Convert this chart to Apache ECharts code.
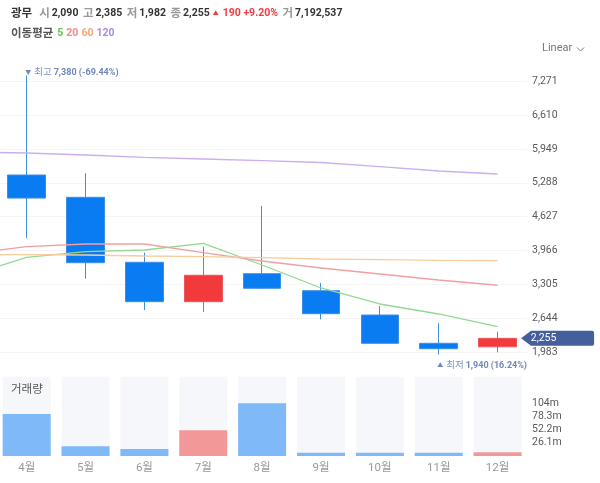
<!DOCTYPE html>
<html>
<head>
<meta charset="utf-8">
<script src="https://cdn.jsdelivr.net/npm/echarts@6/dist/echarts.min.js"></script>
<style>
  html, body { margin: 0; padding: 0; background: #fff; overflow: hidden; }
  #wrap { position: relative; width: 600px; height: 483px; overflow: hidden; }
  /* canvas starts left of the window so the first month slot is cut off */
  #chart { position: absolute; left: -62px; top: 0; width: 662px; height: 483px; }
</style>
</head>
<body>
<div id="wrap"><div id="chart"></div></div>
<script>
// first slot is the month before the window, only the ma lines use it
var months = ['', '4월', '5월', '6월', '7월', '8월', '9월', '10월', '11월', '12월'];

var opens  = ['-', 5440, 5005, 3738, 2970, 3516, 3184, 2710, 2158, 2090];
var closes = ['-', 4990, 3730, 2970, 3485, 3231, 2736, 2158, 2053, 2255];
var lows   = ['-', 4212, 3418, 2808, 2769, 3220, 2627, 2158, 1940, 1982];
var highs  = ['-', 7380, 5474, 3925, 4042, 4836, 3334, 2886, 2549, 2385];

var ma5   = [3471, 3835, 3945, 3978, 4108, 3685, 3237, 2925, 2730, 2482];
var ma20  = [3902, 4042, 4095, 4095, 3925, 3763, 3627, 3510, 3393, 3290];
var ma60  = [3886, 3886, 3880, 3861, 3847, 3828, 3802, 3789, 3777, 3769];
var ma120 = [5889, 5869, 5830, 5785, 5752, 5719, 5684, 5602, 5518, 5460];

// volume in millions
var volumes = ['-', 83, 19.2, 13.8, 50.8, 104.2, 6.5, 6.5, 6.5, 7.19];

var priceTicks = [1983, 2644, 3305, 3966, 4627, 5288, 5949, 6610, 7271];
var volumeTicks = [26.1, 52.2, 78.3, 104.4];
var volumeTickLabels = ['26.1m', '52.2m', '78.3m', '104m'];

var UP = '#f23a3c';
var DOWN = '#0a7cf2';
var FONT = 'Roboto, "Noto Sans CJK KR", sans-serif';
var SHIFT = 62; // how far the canvas hangs off the left edge

var candles = [];
for (var i = 0; i < months.length; i++) {
  candles.push([opens[i], closes[i], lows[i], highs[i]]);
}

var priceStep = priceTicks[1] - priceTicks[0];
var volumeStep = volumeTicks[0];

function maLine(name, data, color) {
  return {
    name: name,
    type: 'line',
    data: data,
    symbol: 'none',
    silent: true,
    lineStyle: { color: color, width: 1.3 }
  };
}

function extremeLabel(cat, value, text, offsetY) {
  return {
    coord: [cat, value],
    symbol: 'rect',
    symbolSize: 1,
    itemStyle: { color: 'transparent' },
    label: {
      show: true,
      position: 'right',
      distance: 0,
      offset: [-2, offsetY],
      formatter: text,
      color: '#7188b6',
      fontFamily: FONT,
      rich: {
        tri: { fontFamily: FONT, fontSize: 6, color: '#7188b6', padding: [0, 3, 0, 0] },
        key: { fontFamily: FONT, fontSize: 9.5, color: '#7f93bb', padding: [0, 2, 0, 0] },
        num: { fontFamily: FONT, fontSize: 9, fontWeight: 'bold', color: '#7188b6' }
      }
    }
  };
}

var chart = echarts.init(document.getElementById('chart'));

chart.setOption({
  animation: false,
  textStyle: { fontFamily: FONT },
  title: [{
    left: SHIFT + 11,
    top: 8,
    padding: 0,
    text: '{name|광무}{k1|시}{v|2,090}{k|고}{v|2,385}{k|저}{v|1,982}{k|종}{v|2,255}{tri|▲}{up|190 +9.20%}{k|거}{v|7,192,537}',
    textStyle: {
      fontFamily: FONT,
      rich: {
        name: { fontFamily: FONT, fontSize: 11.5, fontWeight: 'bold', color: '#333' },
        k1: { fontFamily: FONT, fontSize: 11.5, color: '#999', padding: [0, 2, 0, 7] },
        k: { fontFamily: FONT, fontSize: 11.5, color: '#999', padding: [0, 2, 0, 4.5] },
        v: { fontFamily: FONT, fontSize: 10.5, color: '#333' },
        tri: { fontFamily: FONT, fontSize: 6, color: '#ee3b45', padding: [0, 4, 0, 3] },
        up: { fontFamily: FONT, fontSize: 10.5, color: '#ee3b45' }
      }
    }
  }, {
    left: SHIFT + 11,
    top: 28,
    padding: 0,
    text: '{t|이동평균}{a|5}{b|20}{c|60}{d|120}',
    textStyle: {
      fontFamily: FONT,
      rich: {
        t: { fontFamily: FONT, fontSize: 11.5, color: '#555' },
        a: { fontFamily: FONT, fontSize: 10.5, color: '#5cc45c', padding: [0, 0, 0, 4] },
        b: { fontFamily: FONT, fontSize: 10.5, color: '#f08a8a', padding: [0, 0, 0, 3] },
        c: { fontFamily: FONT, fontSize: 10.5, color: '#f0a878', padding: [0, 0, 0, 3] },
        d: { fontFamily: FONT, fontSize: 10.5, color: '#a98be8', padding: [0, 0, 0, 3] }
      }
    }
  }],
  graphic: [
    { type: 'text', left: SHIFT + 542, top: 43, style: { text: 'Linear', fill: '#777', font: '11px ' + FONT } },
    { type: 'polyline', shape: { points: [[SHIFT + 577, 47.5], [SHIFT + 580.5, 51], [SHIFT + 584, 47.5]] }, style: { stroke: '#777', fill: null, lineWidth: 1 } },
    { type: 'text', left: SHIFT + 11, top: 384, z: 10, style: { text: '거래량', fill: '#555', font: '11.5px ' + FONT } }
  ],
  grid: [
    { left: SHIFT - 61.6, width: 588.6, top: 47.2, height: 339 },
    { left: SHIFT - 61.6, width: 588.6, top: 376.8, height: 79.2 }
  ],
  xAxis: [{
    type: 'category',
    gridIndex: 0,
    data: months,
    axisLine: { show: false },
    axisTick: { show: false },
    axisLabel: { show: false }
  }, {
    type: 'category',
    gridIndex: 1,
    data: months,
    axisLine: { show: false },
    axisTick: { show: false },
    axisLabel: { interval: 0, color: '#999', fontSize: 11.5, margin: 6, fontFamily: FONT }
  }],
  yAxis: [{
    type: 'value',
    gridIndex: 0,
    position: 'right',
    min: priceTicks[0] - priceStep,
    max: priceTicks[priceTicks.length - 1] + priceStep,
    interval: priceStep,
    axisLine: { show: false },
    axisTick: { show: false },
    splitLine: { showMinLine: false, showMaxLine: false, lineStyle: { color: '#f5f5f5' } },
    axisLabel: {
      color: '#5a5a5a',
      fontSize: 10.5,
      margin: 5,
      padding: [2, 0, 0, 0],
      fontFamily: FONT,
      showMinLabel: false,
      showMaxLabel: false,
      formatter: function (v) { return v.toLocaleString('en-US'); }
    }
  }, {
    type: 'value',
    gridIndex: 1,
    position: 'right',
    min: 0,
    max: volumeStep * 6,
    interval: volumeStep,
    axisLine: { show: false },
    axisTick: { show: false },
    splitLine: { show: false },
    axisLabel: {
      color: '#5a5a5a',
      fontSize: 10.5,
      margin: 5,
      padding: [2, 0, 0, 0],
      fontFamily: FONT,
      formatter: function (v) {
        var idx = Math.round(v / volumeStep) - 1;
        return volumeTickLabels[idx] || '';
      }
    }
  }],
  series: [{
    name: '가격',
    type: 'candlestick',
    xAxisIndex: 0,
    yAxisIndex: 0,
    data: candles,
    barWidth: 38,
    itemStyle: {
      color: UP,
      color0: DOWN,
      borderColor: '#e8585c',
      borderColor0: '#3d8fe6',
      borderWidth: 1
    },
    markPoint: {
      silent: true,
      data: [
        extremeLabel('4월', 7380, '{tri|▼}{key|최고}{num|7,380 (-69.44%)}', -3),
        extremeLabel('11월', 1940, '{tri|▲}{key|최저}{num|1,940 (16.24%)}', 11),
        {
          coord: ['12월', 2255],
          symbol: 'path://M0,7.5 L10,0 L71,0 Q73,0 73,2 L73,13 Q73,15 71,15 L10,15 Z',
          symbolSize: [73, 15],
          symbolOffset: [60, 0],
          itemStyle: { color: '#445f9c' },
          label: {
            show: true,
            position: 'inside',
            offset: [-14, 0],
            formatter: '2,255',
            color: '#fff',
            fontSize: 10.5,
            fontFamily: FONT
          }
        }
      ]
    }
  },
  maLine('5', ma5, '#93d893'),
  maLine('20', ma20, '#f0a0a4'),
  maLine('60', ma60, '#f8cc9c'),
  maLine('120', ma120, '#cbaef2'),
  {
    name: '거래량',
    type: 'bar',
    xAxisIndex: 1,
    yAxisIndex: 1,
    data: volumes,
    barWidth: 48,
    showBackground: true,
    backgroundStyle: { color: '#f6f7fb' },
    itemStyle: {
      color: function (p) {
        return closes[p.dataIndex] > opens[p.dataIndex] ? '#f29899' : '#80b9f8';
      }
    }
  }]
});
</script>
</body>
</html>
